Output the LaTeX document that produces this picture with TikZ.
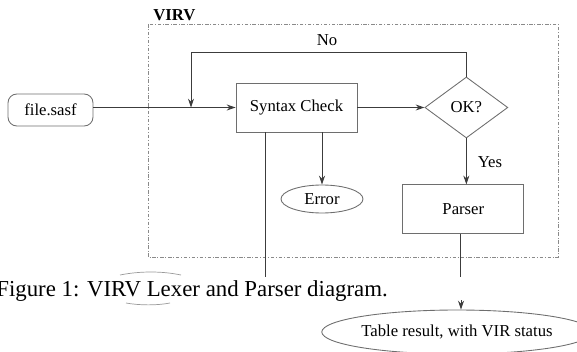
\documentclass[tikz,border=0pt]{standalone}
\usepackage{fontspec}
\setmainfont{Liberation Serif}
\usetikzlibrary{arrows.meta, positioning, shapes.geometric}
\definecolor{vline}{HTML}{3C3C3C}
\definecolor{vedge}{HTML}{6E6E6E}
\definecolor{vframe}{HTML}{8A8A8A}
\definecolor{vghost}{HTML}{9A9A9A}
\newcommand\vfont{\fontsize{9.5}{11}\selectfont}
\tikzset{
  vbox/.style={draw=vedge, line width=0.5pt, minimum width=2.42cm,
               minimum height=0.98cm, inner sep=2pt, font=\vfont},
  fbox/.style={draw=vedge, line width=0.5pt, rounded corners=5pt,
               minimum width=1.7cm, minimum height=0.64cm, font=\vfont},
  oval/.style={draw=vedge, line width=0.5pt, ellipse, inner sep=0pt, font=\vfont},
  decide/.style={draw=vedge, line width=0.5pt, diamond, inner sep=0pt,
                 minimum width=1.66cm, minimum height=1.22cm, font=\vfont},
  wire/.style={draw=vline, line width=0.5pt},
  arr/.style={wire, -{Stealth[length=5pt,width=3.4pt]}},
}

\begin{document}
\begin{tikzpicture}[x=0.02cm, y=-0.02cm,
  frame/.style={draw=vframe, line width=0.5pt,
                dash pattern=on 2pt off 1pt on 0.5pt off 1pt},
  ghost/.style={draw=vghost, line width=0.4pt}]
  \useasboundingbox (0,0) rectangle (577,351);
  \draw[frame] (148,24) rectangle (558,257);
  \node[font=\vfont\bfseries, anchor=base west, inner sep=0pt] (virv) at (153,21) {VIRV};
  \node[fbox] (file) at (50.5,110) {file.sasf};
  \node[vbox] (check) at (296.5,107.5) {Syntax Check};
  \node[decide, right=1.34cm of check] (ok) {OK?};
  \node[vbox, below=0.92cm of ok, xshift=-0.06cm] (parser) {Parser};
  \node[oval, minimum width=1.64cm, minimum height=0.56cm] (err) at (322,199) {Error};
  \node[oval, minimum width=4.8cm, minimum height=0.88cm] (table) at (457,332)
    {Table result, with VIR status};
  \node[font=\vfont] (no) at (327,40) {No};
  \node[font=\vfont] (yes) at (490,162) {Yes};
  \coordinate (merge) at (191,107.5);
  \coordinate (cdrop) at (265,277);
  \coordinate (pdrop) at (460,277);
  \coordinate (tin) at (461,300);
  % main flow
  \draw[arr] (file.east |- check.west) -- (check.west);
  \draw[arr] (check.east) -- (ok.west);
  \draw[arr] (ok.north) -- ++(0,-24) -| (merge);
  \draw[arr] (ok.south) -- (ok.south |- parser.north);
  \draw[arr] (check.south -| err.north) -- (err.north);
  % lines cut by the caption
  \draw[wire] (check.south -| cdrop) -- (cdrop);
  \draw[wire] (parser.south -| pdrop) -- (pdrop);
  \draw[arr] (tin) -- (tin |- table.north);
  \node[font=\fontsize{13}{15}\selectfont, anchor=base west, inner sep=0pt] (cap)
    at (-4,296) {Figure 1: VIRV Lexer and Parser diagram.};
  \draw[ghost] (120,275) .. controls (140,271) and (162,271) .. (181,275);
  \draw[ghost] (126,303) .. controls (140,305.5) and (157,305.5) .. (170,303);
\end{tikzpicture}
\end{document}
